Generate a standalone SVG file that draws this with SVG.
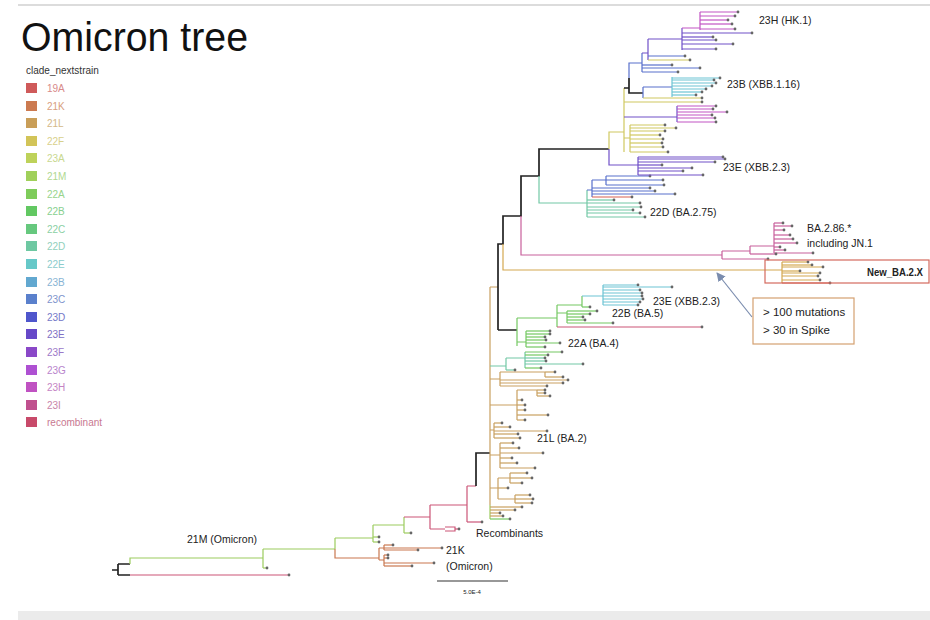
<svg xmlns="http://www.w3.org/2000/svg" width="930" height="620" viewBox="0 0 930 620">
<style>
text{font-family:"Liberation Sans",Arial,sans-serif;fill:#222}
.lab{font-size:10.5px}
.lg{font-size:10px}
path{fill:none;stroke-width:1.2}
.d{marker-end:url(#dot)}
.k{stroke:#222;stroke-width:1.7}
.m21{stroke:#9ccc5e}
.rc{stroke:#cc5577}
.k21{stroke:#c9774f}
.l21{stroke:#c9a060}
.g22{stroke:#74c862}
.cy{stroke:#6cc4d4}
.td{stroke:#72c8a6}
.bl{stroke:#5870cc}
.pu{stroke:#7050c8}
.mg{stroke:#c254c4}
.ye{stroke:#d0c860}
.ba{stroke:#c8609c}
.nb{stroke:#d4a850}
.re{stroke:#d86050}
</style>
<defs>
<marker id="dot" viewBox="0 0 4 4" refX="2" refY="2" markerWidth="4" markerHeight="4" markerUnits="userSpaceOnUse"><circle cx="2" cy="2" r="1.4" fill="#666"/></marker>
<marker id="ar" viewBox="0 0 10 10" refX="9" refY="5" markerWidth="9" markerHeight="9" orient="auto" markerUnits="userSpaceOnUse"><path d="M0,0L10,5L0,10z" style="fill:#7a8cae;stroke:none"/></marker>
</defs>
<rect width="930" height="620" fill="#fff"/>
<line x1="18" y1="5" x2="930" y2="5" stroke="#dcdcdc" stroke-width="2"/>
<rect x="18" y="611" width="912" height="9" fill="#ebebeb"/>

<g id="title"><text x="21" y="51" font-size="41" textLength="227" lengthAdjust="spacingAndGlyphs" style="fill:#111">Omicron tree</text></g>

<g id="legend">
<text class="lg" x="26" y="74" style="fill:#333">clade_nextstrain</text>
<g id="lg-19A"><rect x="26" y="83" width="11" height="10" fill="#cf5a5a"/><text class="lg" x="47" y="92" style="fill:#d88a8a">19A</text></g>
<g id="lg-21K"><rect x="26" y="101" width="11" height="10" fill="#cc7a50"/><text class="lg" x="47" y="110" style="fill:#d8a080">21K</text></g>
<g id="lg-21L"><rect x="26" y="118" width="11" height="10" fill="#c99e58"/><text class="lg" x="47" y="127" style="fill:#d4b888">21L</text></g>
<g id="lg-22F"><rect x="26" y="136" width="11" height="10" fill="#d2c458"/><text class="lg" x="47" y="145" style="fill:#d8d08c">22F</text></g>
<g id="lg-23A"><rect x="26" y="153" width="11" height="10" fill="#bed25a"/><text class="lg" x="47" y="162" style="fill:#c8d890">23A</text></g>
<g id="lg-21M"><rect x="26" y="171" width="11" height="10" fill="#a0d05a"/><text class="lg" x="47" y="180" style="fill:#b0d890">21M</text></g>
<g id="lg-22A"><rect x="26" y="189" width="11" height="10" fill="#7ecc5a"/><text class="lg" x="47" y="198" style="fill:#98d48c">22A</text></g>
<g id="lg-22B"><rect x="26" y="206" width="11" height="10" fill="#62c862"/><text class="lg" x="47" y="215" style="fill:#88d090">22B</text></g>
<g id="lg-22C"><rect x="26" y="224" width="11" height="10" fill="#66c87e"/><text class="lg" x="47" y="233" style="fill:#8cd0a4">22C</text></g>
<g id="lg-22D"><rect x="26" y="241" width="11" height="10" fill="#6ec8a2"/><text class="lg" x="47" y="250" style="fill:#92d0bc">22D</text></g>
<g id="lg-22E"><rect x="26" y="259" width="11" height="10" fill="#66c8c8"/><text class="lg" x="47" y="268" style="fill:#8ccccc">22E</text></g>
<g id="lg-23B"><rect x="26" y="277" width="11" height="10" fill="#62a8d0"/><text class="lg" x="47" y="286" style="fill:#88b4d4">23B</text></g>
<g id="lg-23C"><rect x="26" y="294" width="11" height="10" fill="#5a80cc"/><text class="lg" x="47" y="303" style="fill:#7e94cc">23C</text></g>
<g id="lg-23D"><rect x="26" y="312" width="11" height="10" fill="#4f56cc"/><text class="lg" x="47" y="321" style="fill:#7478c8">23D</text></g>
<g id="lg-23E"><rect x="26" y="329" width="11" height="10" fill="#6648c8"/><text class="lg" x="47" y="338" style="fill:#8070c4">23E</text></g>
<g id="lg-23F"><rect x="26" y="347" width="11" height="10" fill="#8a48c8"/><text class="lg" x="47" y="356" style="fill:#9c78c8">23F</text></g>
<g id="lg-23G"><rect x="26" y="365" width="11" height="10" fill="#ae50d2"/><text class="lg" x="47" y="374" style="fill:#b884cc">23G</text></g>
<g id="lg-23H"><rect x="26" y="382" width="11" height="10" fill="#c052c2"/><text class="lg" x="47" y="391" style="fill:#c484c4">23H</text></g>
<g id="lg-23I"><rect x="26" y="400" width="11" height="10" fill="#c0508e"/><text class="lg" x="47" y="409" style="fill:#c884a8">23I</text></g>
<g id="lg-rec"><rect x="26" y="417" width="11" height="10" fill="#c84a6a"/><text class="lg" x="47" y="426" style="fill:#c87890">recombinant</text></g>
</g>

<g id="connectors">
<!-- root and 21M -->
<path class="k" d="M112,570H118M118,564V575M118,564H130M118,575H130"/>
<path class="rc d" d="M130,575H289"/>
<path class="m21" d="M130,564V558H263M263,549V568M263,549H335M335,538V549M335,538H373M373,525V542M373,525H404M404,517V533"/>
<path class="m21 d" d="M263,568H267"/>
<path class="m21 d" d="M373,537H379"/>
<path class="m21 d" d="M373,542H379"/>
<path class="m21 d" d="M404,533H411"/>
<!-- recombinants -->
<path class="rc" d="M404,517H430M430,505V529M430,529H445M445,527H455V531H445M430,505H467M467,486V522M467,486H476"/>
<path class="rc d" d="M455,529H459"/>
<path class="rc d" d="M467,522H482"/>
<path class="k" d="M476,486V453H490"/>
<!-- 21K -->
<path class="k21" d="M335,549V558H379M379,548V560M379,548H384M384,545V550M379,560H384M384,555V566"/>
<path class="k21 d" d="M384,545H393"/>
<path class="k21 d" d="M384,548H442"/>
<path class="k21 d" d="M384,550H418"/>
<path class="k21 d" d="M384,555H388"/>
<path class="k21 d" d="M384,558H388"/>
<path class="k21 d" d="M384,563H434"/>
<path class="k21 d" d="M384,566H412"/>
<!-- 21L stem -->
<path class="l21" d="M490,287V505M490,287H498"/>
<path class="m21" d="M490,505V519"/>
<path class="g22 d" d="M490,519H510"/>
<!-- main black trunk -->
<path class="k" d="M498,330V244H503V216H521V176H539V149H609M498,330H517"/>
<!-- 21L groups -->
<path class="l21" d="M490,379H500M500,372V386M500,372H545M545,372V377M490,405H517M517,390V420M517,390H537M537,390V396M490,430H494M494,423V438M490,455H500M500,443V468M490,488H498M498,478V499M498,478H510M510,473V483M498,499H515M515,495V503"/>
<path class="l21 d" d="M545,372H555"/><path class="l21 d" d="M545,377H563"/>
<path class="l21 d" d="M500,380H568"/><path class="l21 d" d="M500,383H563"/><path class="l21 d" d="M500,386H547"/>
<path class="l21 d" d="M537,390H545"/><path class="l21 d" d="M537,393H545"/><path class="l21 d" d="M537,396H550"/>
<path class="l21 d" d="M517,400H522"/><path class="l21 d" d="M517,405H525"/><path class="l21 d" d="M517,410H525"/><path class="l21 d" d="M517,415H548"/><path class="l21 d" d="M517,420H525"/>
<path class="l21 d" d="M494,423H502"/><path class="l21 d" d="M494,427H510"/><path class="l21 d" d="M494,431H547"/><path class="l21 d" d="M494,434H518"/><path class="l21 d" d="M494,438H520"/>
<path class="l21 d" d="M500,443H513"/><path class="l21 d" d="M500,448H519"/><path class="l21 d" d="M500,453H543"/><path class="l21 d" d="M500,458H512"/><path class="l21 d" d="M500,463H517"/><path class="l21 d" d="M500,468H535"/>
<path class="l21 d" d="M510,473H527"/><path class="l21 d" d="M510,478H532"/><path class="l21 d" d="M510,483H522"/><path class="l21 d" d="M498,488H508"/>
<path class="l21 d" d="M515,495H530"/><path class="l21 d" d="M515,499H533"/><path class="l21 d" d="M515,503H532"/>
<path class="l21 d" d="M490,507H522"/><path class="l21 d" d="M490,510H515"/><path class="l21 d" d="M490,513H500"/><path class="l21 d" d="M490,516H503"/>
<!-- teal-green group -->
<path class="td" d="M490,366H506M506,358V370M506,358H525M525,352V368"/>
<path class="g22 d" d="M525,352H562"/><path class="g22 d" d="M525,355H548"/><path class="td d" d="M525,358H545"/><path class="td d" d="M525,361H546"/><path class="td d" d="M525,364H583"/><path class="g22 d" d="M525,368H541"/><path class="td d" d="M506,370H515"/>
<!-- 22A / 22B / 23E -->
<path class="g22" d="M517,318V346M517,318H557M557,305V327M557,305H582M582,296V307M557,313H567M567,311V323M517,342H526M526,331V347"/>
<path class="cy" d="M582,296H603M603,285V305"/>
<path class="cy d" d="M603,285H638"/><path class="cy d" d="M603,287H672"/><path class="cy d" d="M603,290H640"/><path class="cy d" d="M603,293H642"/><path class="cy d" d="M603,296H642"/><path class="cy d" d="M603,299H643"/><path class="cy d" d="M603,302H640"/><path class="cy d" d="M603,305H638"/>
<path class="g22 d" d="M582,307H590"/>
<path class="g22 d" d="M567,311H597"/><path class="g22 d" d="M567,314H590"/><path class="g22 d" d="M567,317H583"/><path class="g22 d" d="M567,320H585"/><path class="g22 d" d="M567,323H613"/>
<path class="rc d" d="M557,327H702"/>
<path class="g22 d" d="M526,331H550"/><path class="g22 d" d="M526,334H550"/><path class="g22 d" d="M526,337H545"/><path class="g22 d" d="M526,340H546"/><path class="g22 d" d="M526,343H560"/><path class="g22 d" d="M526,347H545"/>
<!-- New_BA.2.X -->
<path class="nb" d="M503,244V270H782M782,262V283"/>
<path class="nb d" d="M782,262H808"/><path class="nb d" d="M782,265H812"/><path class="nb d" d="M782,267H823"/><path class="nb d" d="M782,271H800"/><path class="nb d" d="M782,273H820"/><path class="nb d" d="M782,276H818"/><path class="nb d" d="M782,280H820"/><path class="re d" d="M782,283H830"/>
<!-- BA.2.86 -->
<path class="ba" d="M521,216V255H722M722,251V259M722,251H750M750,246V254M750,246H774M774,223V253"/>
<path class="ba d" d="M774,223H783"/><path class="ba d" d="M774,226H792"/><path class="ba d" d="M774,230H784"/><path class="ba d" d="M774,235H790"/><path class="ba d" d="M774,239H793"/><path class="ba d" d="M774,243H797"/><path class="ba d" d="M774,247H780"/><path class="ba d" d="M774,250H785"/><path class="ba d" d="M774,253H813"/><path class="ba d" d="M750,254H776"/><path class="ba d" d="M722,259H768"/>
<!-- 22D -->
<path class="td" d="M539,176V203H587M587,190V217"/>
<path class="bl" d="M587,190H592M592,180V197M592,180H606M606,176V185"/>
<path class="bl d" d="M606,176H650"/><path class="bl d" d="M606,180H663"/><path class="bl d" d="M606,185H664"/>
<path class="bl d" d="M592,188H650"/><path class="bl d" d="M592,191H655"/><path class="bl d" d="M592,194H675"/>
<path class="re d" d="M592,197H632"/>
<path class="td d" d="M587,200H614"/><path class="td d" d="M587,203H640"/><path class="td d" d="M587,207H641"/><path class="td d" d="M587,210H633"/><path class="td d" d="M587,213H640"/><path class="td d" d="M587,217H645"/>
<!-- top clade -->
<path class="ye" d="M609,149V132H624M624,88V152"/>
<path class="pu" d="M609,149V165H638M638,157V175"/>
<path class="pu d" d="M638,157H723"/><path class="pu d" d="M638,159H725"/><path class="pu d" d="M638,162H715"/><path class="pu d" d="M638,165H662"/><path class="pu d" d="M638,168H692"/><path class="pu d" d="M638,171H683"/><path class="pu d" d="M638,175H703"/>
<path class="k" d="M624,88H629M629,78V93H643"/>
<path class="bl" d="M629,78V63H642M642,53V72M643,87V98M643,87H672"/>
<path class="pu" d="M642,53H648M648,39V60M648,39H682M682,28V50"/>
<path class="mg" d="M682,28H700M700,12V30"/>
<path class="mg d" d="M700,12H738"/><path class="mg d" d="M700,16H735"/><path class="mg d" d="M700,20H728"/><path class="mg d" d="M700,24H732"/><path class="mg d" d="M700,29H735"/>
<path class="pu d" d="M682,33H752"/><path class="pu d" d="M682,37H713"/><path class="pu d" d="M682,40H716"/><path class="pu d" d="M682,44H733"/><path class="pu d" d="M682,49H716"/>
<path class="bl d" d="M648,56H685"/><path class="ye d" d="M648,60H690"/>
<path class="bl d" d="M642,65H672"/><path class="bl d" d="M642,68H700"/><path class="bl d" d="M642,72H678"/>
<path class="cy" d="M672,77V97"/>
<path class="cy d" d="M672,78H720"/><path class="cy d" d="M672,80H714"/><path class="cy d" d="M672,83H716"/><path class="cy d" d="M672,86H712"/><path class="cy d" d="M672,89H706"/><path class="cy d" d="M672,92H702"/><path class="cy d" d="M672,95H696"/>
<path class="ye d" d="M643,98H702"/>
<path class="ye d" d="M624,102H702"/>
<path class="pu" d="M624,117H677M677,106V122"/>
<path class="mg d" d="M677,106H716"/><path class="mg d" d="M677,109H713"/><path class="mg d" d="M677,112H727"/><path class="mg d" d="M677,115H712"/><path class="mg d" d="M677,118H715"/><path class="mg d" d="M677,122H716"/>
<path class="ye" d="M624,138H630M630,125V152"/>
<path class="ye d" d="M630,125H665"/><path class="ye d" d="M630,128H676"/><path class="ye d" d="M630,131H665"/><path class="ye d" d="M630,135H660"/><path class="ye d" d="M630,139H663"/><path class="ye d" d="M630,143H662"/><path class="ye d" d="M630,147H663"/><path class="ye d" d="M630,152H668"/>
<!-- callout arrow -->
<path d="M752,317L717,273" stroke="#7a8cae" stroke-width="1.2" marker-end="url(#ar)"/>
<!-- scale bar -->
<path d="M437,581H508" stroke="#333" stroke-width="1"/>
</g>

<g id="labels">
<text class="lab" x="759" y="24">23H (HK.1)</text>
<text class="lab" x="727" y="88">23B (XBB.1.16)</text>
<text class="lab" x="723" y="171">23E (XBB.2.3)</text>
<text class="lab" x="650" y="216">22D (BA.2.75)</text>
<text class="lab" x="807" y="232">BA.2.86.*</text>
<text class="lab" x="807" y="247">including JN.1</text>
<text class="lab" x="653" y="305">23E (XBB.2.3)</text>
<text class="lab" x="612" y="317">22B (BA.5)</text>
<text class="lab" x="568" y="347">22A (BA.4)</text>
<text class="lab" x="537" y="442">21L (BA.2)</text>
<text class="lab" x="476" y="537">Recombinants</text>
<text class="lab" x="187" y="543">21M (Omicron)</text>
<text class="lab" x="446" y="554">21K</text>
<text class="lab" x="446" y="570">(Omicron)</text>
<text x="472" y="594" font-size="6" text-anchor="middle">5.0E-4</text>
</g>

<g id="new-box">
<rect x="765" y="260" width="164" height="23" fill="none" stroke="#d46a5e" stroke-width="1.2"/>
<text x="867" y="276" font-size="10.5" font-weight="bold" textLength="56" lengthAdjust="spacingAndGlyphs">New_BA.2.X</text>
</g>

<g id="callout">
<rect x="753" y="298" width="101" height="46" fill="#fff" stroke="#d4a070" stroke-width="1.2"/>
<text x="763" y="316" font-size="11.5">&gt; 100 mutations</text>
<text x="763" y="334" font-size="11.5">&gt; 30 in Spike</text>
</g>
</svg>
